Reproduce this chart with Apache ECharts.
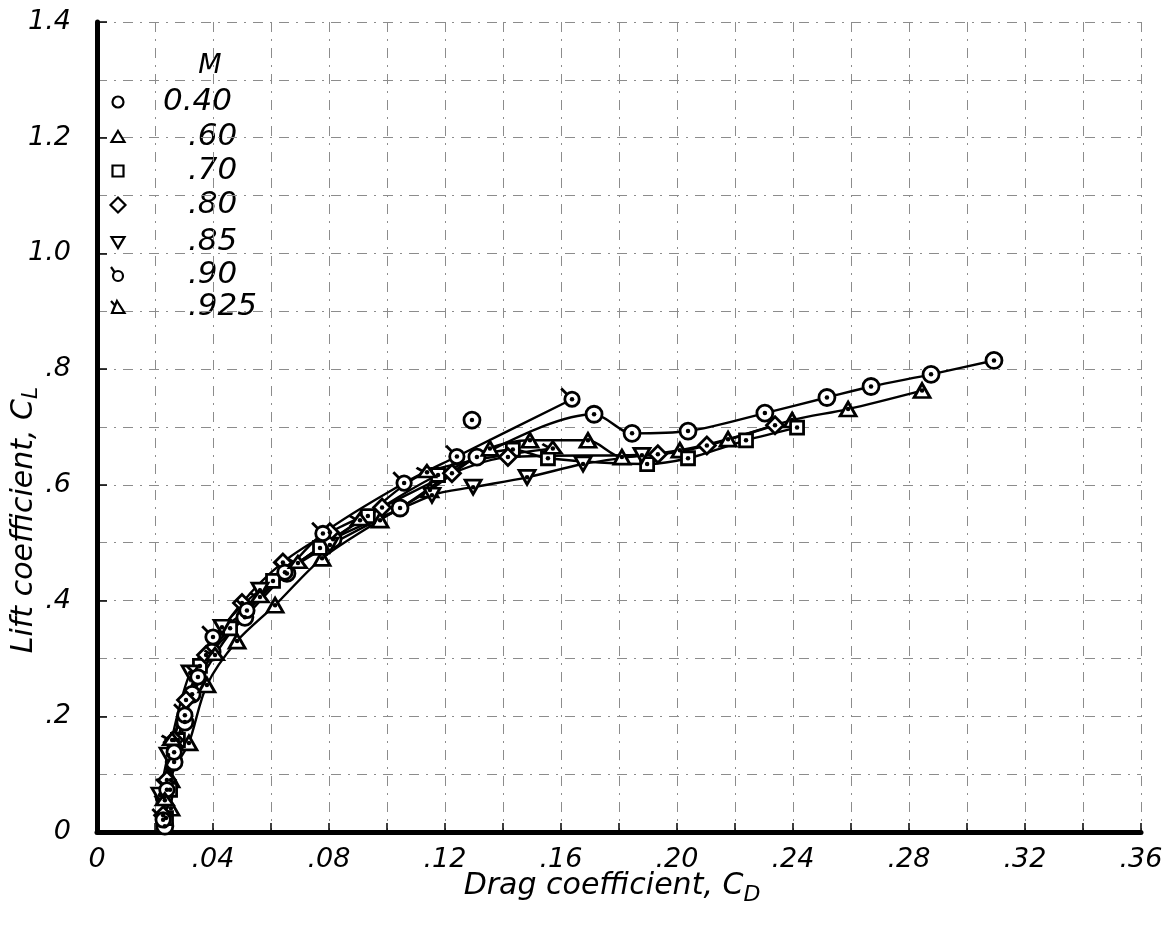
<!DOCTYPE html>
<html>
<head>
<meta charset="utf-8">
<script src="https://cdn.jsdelivr.net/npm/echarts@6/dist/echarts.min.js"></script>
<style>
  html, body { margin: 0; padding: 0; background: #fff; }
  #chart { width: 1174px; height: 939px; }
</style>
</head>
<body>
<div id="chart"></div>
<script>
// Mach numbers (legend)
const machLabels = ['0.40', '.60', '.70', '.80', '.85', '.90', '.925'];
const xTickLabels = ['0', '.04', '.08', '.12', '.16', '.20', '.24', '.28', '.32', '.36'];
const yTickLabels = ['0', '.2', '.4', '.6', '.8', '1.0', '1.2', '1.4'];

// [C_D, C_L]
const m040 = [[0.0252, -0.014], [0.0234, 0.010], [0.0231, 0.060], [0.0266, 0.121], [0.0303, 0.190],
  [0.0328, 0.238], [0.0397, 0.311], [0.0510, 0.371], [0.0655, 0.447], [0.0814, 0.506],
  [0.1045, 0.560], [0.1310, 0.648], [0.1714, 0.722], [0.1845, 0.689], [0.2038, 0.693],
  [0.2303, 0.724], [0.2517, 0.751], [0.2669, 0.770], [0.2876, 0.791], [0.3093, 0.815]];
const m040Single = [[0.1293, 0.712]];
const m060 = [[0.0255, 0.041], [0.0255, 0.090], [0.0317, 0.154], [0.0379, 0.254], [0.0483, 0.330],
  [0.0614, 0.392], [0.0776, 0.473], [0.0976, 0.539], [0.1148, 0.591], [0.1355, 0.663],
  [0.1493, 0.677], [0.1693, 0.677], [0.1810, 0.648], [0.2010, 0.660], [0.2176, 0.679],
  [0.2397, 0.712], [0.2590, 0.731], [0.2845, 0.763]];
const m070 = [[0.0238, 0.024], [0.0252, 0.073], [0.0279, 0.159], [0.0355, 0.287], [0.0459, 0.352],
  [0.0607, 0.434], [0.0769, 0.491], [0.0934, 0.546], [0.1176, 0.617], [0.1434, 0.661],
  [0.1555, 0.646], [0.1897, 0.636], [0.2038, 0.646], [0.2238, 0.677], [0.2414, 0.699]];
const m080 = [[0.0228, 0.029], [0.0241, 0.090], [0.0266, 0.159], [0.0307, 0.228], [0.0376, 0.306],
  [0.0500, 0.396], [0.0641, 0.466], [0.0803, 0.518], [0.0983, 0.561], [0.1224, 0.620],
  [0.1417, 0.648], [0.1934, 0.653], [0.2103, 0.668], [0.2338, 0.703]];
const m085 = [[0.0217, 0.064], [0.0245, 0.133], [0.0321, 0.275], [0.0431, 0.354], [0.0562, 0.418],
  [0.0803, 0.496], [0.1155, 0.582], [0.1297, 0.596], [0.1483, 0.613], [0.1676, 0.636],
  [0.1879, 0.651]];
const m090 = [[0.0228, 0.021], [0.0241, 0.073], [0.0266, 0.138], [0.0303, 0.202], [0.0348, 0.268],
  [0.0400, 0.337], [0.0517, 0.383], [0.0648, 0.449], [0.0779, 0.516], [0.1059, 0.603],
  [0.1241, 0.649], [0.1638, 0.748]];
const m0925 = [[0.0234, 0.055], [0.0259, 0.159], [0.0407, 0.306], [0.0562, 0.406], [0.0693, 0.465],
  [0.0907, 0.539], [0.1138, 0.622], [0.1572, 0.663]];

const FONT = '"DejaVu Sans", sans-serif';

// circle with a flag, triangle with a flag
const flagCircle = 'path://M16,10 C16,13.31 13.31,16 10,16 C6.69,16 4,13.31 4,10 C4,6.69 6.69,4 10,4 C13.31,4 16,6.69 16,10 Z M5.8,5.8 L1,1';
const flagTriangle = 'path://M10,4 L17,16 L3,16 Z M6.4,10 L1.5,6.5';

const groups = [
  { data: m040, symbol: 'circle', size: 16, offset: [0, 0] },
  { data: m060, symbol: 'triangle', size: [16, 14], offset: [0, 0] },
  { data: m070, symbol: 'rect', size: 13, offset: [0, 0] },
  { data: m080, symbol: 'diamond', size: [17, 17], offset: [0, 0] },
  { data: m085, symbol: 'triangle', size: [16, 14], rotate: 180, offset: [0, 0] },
  { data: m090, symbol: flagCircle, size: 18, offset: [-1.8, -1.8] },
  { data: m0925, symbol: flagTriangle, size: [19, 15], offset: [-1, -1] }
];

const gridLine = { color: '#8c8c8c', width: 1, type: [10, 7, 2, 7] };
const edge = { color: '#fff', borderColor: '#000', borderWidth: 2.8, opacity: 1 };

const series = [];
groups.forEach((g, i) => {
  series.push({
    name: machLabels[i], type: 'line', data: g.data, smooth: 0.3, symbol: 'none',
    lineStyle: { color: '#000', width: 2.4 }, z: 2, silent: true
  });
});
groups.forEach((g, i) => {
  series.push({
    name: machLabels[i] + ' pts', type: 'scatter', data: g.data, symbol: g.symbol,
    symbolSize: g.size, symbolRotate: g.rotate || 0, symbolOffset: g.offset, symbolKeepAspect: true,
    itemStyle: edge, z: 3, silent: true
  });
  series.push({
    type: 'scatter', data: g.data, symbol: 'circle', symbolSize: 4.5,
    itemStyle: { color: '#000', opacity: 1 }, z: 4, silent: true
  });
});
// lone point of M = 0.40
series.push({
  type: 'scatter', data: m040Single, symbol: 'circle', symbolSize: 16,
  itemStyle: edge, z: 3, silent: true
});
series.push({
  type: 'scatter', data: m040Single, symbol: 'circle', symbolSize: 4.5,
  itemStyle: { color: '#000', opacity: 1 }, z: 4, silent: true
});

// legend drawn by hand
const legendX = 118;
const rowY = [102, 137, 171, 205, 242, 275, 307];
const sym = { fill: '#fff', stroke: '#000', lineWidth: 2.2 };
const legendShapes = [
  { type: 'circle', shape: { cx: legendX, cy: rowY[0], r: 5.5 }, style: sym },
  { type: 'polygon', shape: { points: [[legendX, rowY[1] - 6], [legendX + 6.5, rowY[1] + 5], [legendX - 6.5, rowY[1] + 5]] }, style: sym },
  { type: 'rect', shape: { x: legendX - 5.5, y: rowY[2] - 5.5, width: 11, height: 11 }, style: sym },
  { type: 'polygon', shape: { points: [[legendX, rowY[3] - 7.5], [legendX + 7.5, rowY[3]], [legendX, rowY[3] + 7.5], [legendX - 7.5, rowY[3]]] }, style: sym },
  { type: 'polygon', shape: { points: [[legendX - 6.5, rowY[4] - 5], [legendX + 6.5, rowY[4] - 5], [legendX, rowY[4] + 6]] }, style: sym },
  { type: 'circle', shape: { cx: legendX, cy: rowY[5] + 1, r: 5 }, style: sym },
  { type: 'line', shape: { x1: legendX - 3.5, y1: rowY[5] - 3, x2: legendX - 7, y2: rowY[5] - 8 }, style: sym },
  { type: 'polygon', shape: { points: [[legendX - 1, rowY[6] - 6], [legendX + 6.5, rowY[6] + 6], [legendX - 6, rowY[6] + 6]] }, style: sym },
  { type: 'line', shape: { x1: legendX - 3.5, y1: rowY[6] - 2, x2: legendX - 7, y2: rowY[6] - 6 }, style: sym }
];
const legendTexts = machLabels.map((t, i) => ({
  type: 'text', x: t.charAt(0) === '0' ? 163 : 188, y: rowY[i],
  style: { text: t, font: 'italic 31px ' + FONT, fill: '#000', verticalAlign: 'middle' }
}));

const chart = echarts.init(document.getElementById('chart'));
chart.setOption({
  animation: false,
  backgroundColor: '#fff',
  grid: { left: 97, right: 33, top: 22, bottom: 107 },
  xAxis: {
    type: 'value', min: 0, max: 0.36, interval: 0.04,
    axisLine: { onZero: false, lineStyle: { color: '#000', width: 5 } },
    axisTick: { inside: true, length: 9, lineStyle: { color: '#000', width: 1.5 } },
    minorTick: { show: true, splitNumber: 2, length: 9, lineStyle: { color: '#000', width: 1.5 } },
    axisLabel: {
      margin: 14, color: '#000', fontSize: 27, fontStyle: 'italic', fontFamily: FONT,
      formatter: v => xTickLabels[Math.round(v / 0.04)]
    },
    splitLine: { show: true, lineStyle: gridLine },
    minorSplitLine: { show: true, lineStyle: gridLine }
  },
  yAxis: {
    type: 'value', min: 0, max: 1.4, interval: 0.2,
    axisLine: { onZero: false, lineStyle: { color: '#000', width: 5 } },
    axisTick: { inside: true, length: 10, lineStyle: { color: '#000', width: 1.5 } },
    axisLabel: {
      margin: 26, color: '#000', fontSize: 27, fontStyle: 'italic', fontFamily: FONT,
      formatter: v => yTickLabels[Math.round(v / 0.2)]
    },
    splitLine: { show: true, lineStyle: gridLine },
    minorSplitLine: { show: true, lineStyle: gridLine },
    minorTick: { show: false, splitNumber: 2 }
  },
  graphic: [
    { type: 'text', x: 210, y: 66, style: { text: 'M', font: 'italic 27px ' + FONT, fill: '#000', align: 'center', verticalAlign: 'middle' } },
    ...legendShapes.map(s => Object.assign({}, s, { z: 10 })),
    ...legendTexts,
    {
      type: 'text', x: 612, y: 886,
      style: {
        text: 'Drag coefficient, C{s|D}', font: 'italic 30px ' + FONT, fill: '#000',
        align: 'center', verticalAlign: 'middle',
        rich: { s: { font: 'italic 22px ' + FONT, fill: '#000', padding: [18, 0, 0, 0] } }
      }
    },
    {
      type: 'text', x: 24, y: 520, rotation: Math.PI / 2,
      style: {
        text: 'Lift coefficient, C{s|L}', font: 'italic 30px ' + FONT, fill: '#000',
        align: 'center', verticalAlign: 'middle',
        rich: { s: { font: 'italic 22px ' + FONT, fill: '#000', padding: [14, 0, 0, 0] } }
      }
    }
  ],
  series: series
});
</script>
</body>
</html>
